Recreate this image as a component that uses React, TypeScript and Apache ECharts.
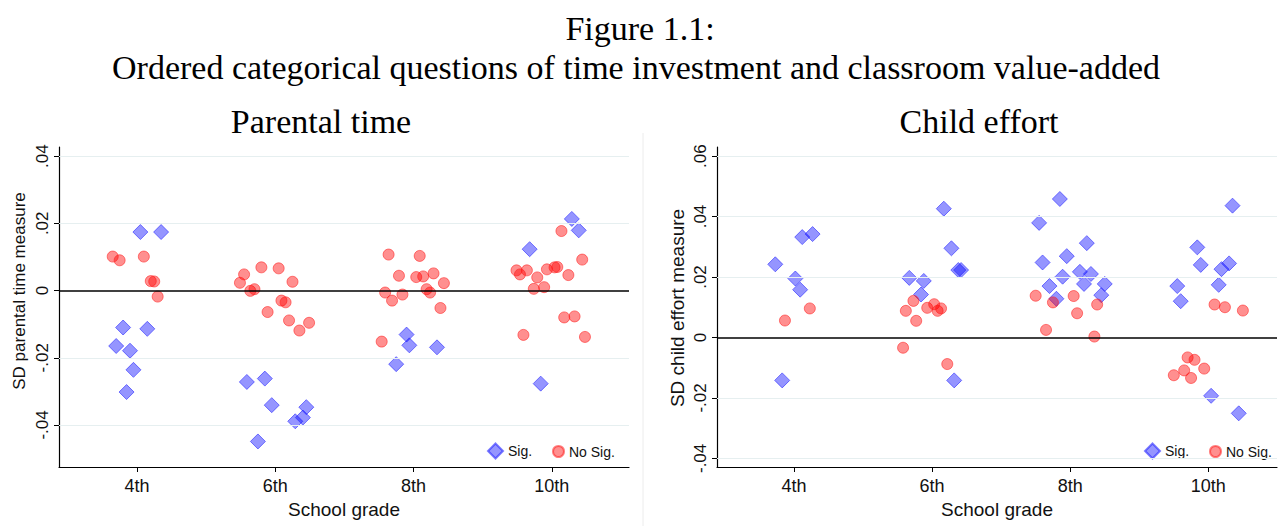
import React, { useEffect, useRef } from "react";
import * as echarts from "echarts";

// Grade ticks
const gradeValues = [4, 6, 8, 10];
const gradeLabels = ["4th", "6th", "8th", "10th"];

// Y ticks
const parentalTicks = [-0.04, -0.02, 0, 0.02, 0.04];
const effortTicks = [-0.04, -0.02, 0, 0.02, 0.04, 0.06];

// Parental time — significant (jittered grade, SD)
const parentalSigX = [4.05, 4.35, 3.8, 4.15, 3.7, 3.9, 3.95, 3.85, 5.59, 5.85, 5.95, 5.75, 6.29, 6.4, 6.45, 7.9, 7.94, 7.75, 8.34, 9.84, 9.68, 10.29, 10.39];
const parentalSigY = [0.0174, 0.0174, -0.011, -0.0114, -0.0165, -0.0179, -0.0236, -0.0302, -0.0272, -0.0262, -0.0341, -0.0449, -0.0389, -0.0378, -0.0347, -0.0131, -0.0163, -0.0219, -0.0169, -0.0277, 0.0123, 0.0213, 0.0179];

// Parental time — not significant
const parentalNoSigX = [3.65, 3.75, 4.1, 4.2, 4.25, 4.3,
  5.49, 5.55, 5.64, 5.7, 5.8, 5.89, 6.05, 6.09, 6.15, 6.25, 6.2, 6.35, 6.49,
  7.64, 8.09, 7.79, 8.04, 8.14, 8.29, 8.44, 7.59, 7.84, 8.19, 8.24, 7.69, 8.39, 7.54,
  10.14, 10.44, 9.49, 9.54, 9.64, 9.79, 9.93, 10.04, 10.08, 10.24, 9.74, 9.89, 9.59, 10.18, 10.33, 10.48];
const parentalNoSigY = [0.0101, 0.009, 0.0101, 0.0028, 0.0027, -0.0018,
  0.0023, 0.0048, -0.0001, 0.0004, 0.0069, -0.0064, 0.0066, -0.003, -0.0035, 0.0026, -0.0089, -0.0119, -0.0096,
  0.0107, 0.0103, 0.0044, 0.004, 0.0042, 0.0051, 0.0022, -0.0006, -0.0012, 0.0004, -0.0006, -0.003, -0.0052, -0.0152,
  0.0177, 0.0092, 0.006, 0.0048, 0.006, 0.0039, 0.0063, 0.0069, 0.007, 0.0046, 0.0005, 0.001, -0.0132, -0.008, -0.0077, -0.0138];

// Child effort — significant
const effortSigX = [3.73, 4.12, 4.27, 4.02, 4.09, 3.83,
  6.17, 6.28, 6.38, 6.42, 5.67, 5.88, 5.84, 6.32,
  7.85, 7.55, 8.24, 7.95, 7.6, 7.89, 8.14, 8.3, 8.2, 8.5, 7.7, 8.45, 7.8,
  10.35, 9.84, 9.89, 10.19, 10.3, 9.55, 9.6, 10.15, 10.04, 10.44];
const effortSigY = [0.0242, 0.0332, 0.0342, 0.0195, 0.0158, -0.0142,
  0.0426, 0.0295, 0.0223, 0.0223, 0.0197, 0.0187, 0.0142, -0.0142,
  0.0458, 0.0379, 0.0312, 0.0269, 0.0248, 0.0201, 0.0217, 0.021, 0.0177, 0.0177, 0.017, 0.014, 0.0128,
  0.0436, 0.0298, 0.024, 0.0226, 0.0245, 0.017, 0.012, 0.0174, -0.0193, -0.0251];

// Child effort — not significant
const effortNoSigX = [3.87, 4.23,
  5.73, 5.62, 5.77, 5.93, 6.03, 6.08, 6.13, 5.58, 6.22,
  7.5, 7.75, 8.05, 8.39, 8.1, 7.65, 8.35,
  10.09, 10.24, 10.5, 9.7, 9.8, 9.94, 9.65, 9.5, 9.75];
const effortNoSigY = [0.0056, 0.0096,
  0.0121, 0.0088, 0.0055, 0.0098, 0.011, 0.0088, 0.0096, -0.0034, -0.0088,
  0.0138, 0.0116, 0.0137, 0.0109, 0.008, 0.0025, 0.0003,
  0.0109, 0.01, 0.0089, -0.0066, -0.0074, -0.0103, -0.0109, -0.0125, -0.0134];

const SANS = "Liberation Sans";
const SERIF = "Liberation Serif";
const BLUE_FILL = "rgba(0,0,255,0.52)";
const BLUE_EDGE = "rgba(40,40,255,0.75)";
const RED_FILL = "rgba(255,0,0,0.55)";
const RED_EDGE = "rgba(255,30,30,0.7)";
const GRID_COLOR = "#e6eff0";

const zip = (xs: number[], ys: number[]) => xs.map((x, i) => [x, ys[i]]);

const fmtY = (v: number) => {
  if (Math.abs(v) < 1e-9) return "0";
  const s = Math.abs(v).toFixed(2).replace(/^0/, "");
  return (v < 0 ? "-" : "") + s;
};

const fmtX = (v: number) => {
  const i = gradeValues.indexOf(Math.round(v));
  return i >= 0 ? gradeLabels[i] : "";
};

function makeXAxis(gridIndex: number, min: number, max: number) {
  return {
    type: "value",
    gridIndex,
    min,
    max,
    name: "School grade",
    nameLocation: "middle",
    nameGap: 29,
    nameTextStyle: { fontFamily: SANS, fontSize: 19, color: "#111" },
    axisLine: { show: true, onZero: false, lineStyle: { color: "#000", width: 1.2 } },
    axisTick: { show: true, length: 5, customValues: gradeValues, lineStyle: { color: "#000" } },
    axisLabel: { customValues: gradeValues, formatter: fmtX, fontFamily: SANS, fontSize: 18, color: "#111", margin: 10 },
    splitLine: { show: false },
  };
}

function makeYAxis(gridIndex: number, min: number, max: number, ticks: number[]) {
  return {
    type: "value",
    gridIndex,
    min,
    max,
    axisLine: { show: true, onZero: false, lineStyle: { color: "#000", width: 1.2 } },
    axisTick: { show: true, length: 5, customValues: ticks, lineStyle: { color: "#000" } },
    axisLabel: { customValues: ticks, formatter: fmtY, rotate: 90, fontFamily: SANS, fontSize: 17, color: "#111", margin: 8 },
    splitLine: { show: false },
  };
}

function gridLines(ticks: number[]) {
  return {
    silent: true,
    symbol: ["none", "none"],
    label: { show: false },
    animation: false,
    data: [
      ...ticks.filter((t) => t !== 0).map((t) => ({ yAxis: t, lineStyle: { color: GRID_COLOR, width: 1, type: "solid" } })),
      { yAxis: 0, lineStyle: { color: "#000", width: 1.6, type: "solid" } },
    ],
  };
}

function sigSeries(idx: number, xs: number[], ys: number[], ticks: number[]) {
  return {
    name: "Sig.",
    type: "scatter",
    xAxisIndex: idx,
    yAxisIndex: idx,
    symbol: "diamond",
    symbolSize: 15,
    itemStyle: { color: BLUE_FILL, borderColor: BLUE_EDGE, borderWidth: 1 },
    data: zip(xs, ys),
    markLine: gridLines(ticks),
    z: 3,
  };
}

function noSigSeries(idx: number, xs: number[], ys: number[]) {
  return {
    name: "No Sig.",
    type: "scatter",
    xAxisIndex: idx,
    yAxisIndex: idx,
    symbol: "circle",
    symbolSize: 11,
    itemStyle: { color: RED_FILL, borderColor: RED_EDGE, borderWidth: 1 },
    data: zip(xs, ys),
    z: 4,
  };
}

function legendItem(left: number, name: string, icon: string, size: number) {
  return {
    left,
    top: 450 - size / 2,
    padding: 0,
    orient: "horizontal",
    selectedMode: false,
    itemWidth: size,
    itemHeight: size,
    width: 120,
    textStyle: { fontFamily: SANS, fontSize: 14, color: "#111" },
    data: [{ name, icon }],
  };
}

export default function App() {
  const ref = useRef<HTMLDivElement>(null);

  useEffect(() => {
    document.body.style.margin = "0";
    if (!ref.current) return;
    const chart = echarts.init(ref.current, undefined, { renderer: "svg" });

    const option: any = {
      animation: false,
      backgroundColor: "#fff",
      grid: [
        { left: 59, top: 147, width: 570, height: 320 },
        { left: 717, top: 147, width: 560, height: 320 },
      ],
      xAxis: [makeXAxis(0, 2.873, 11.117), makeXAxis(1, 2.886, 10.994)],
      yAxis: [makeYAxis(0, -0.0525, 0.0427, parentalTicks), makeYAxis(1, -0.04285, 0.063, effortTicks)],
      legend: [
        legendItem(487, "Sig.", "diamond", 15),
        legendItem(552, "No Sig.", "circle", 11),
        legendItem(1144, "Sig.", "diamond", 15),
        legendItem(1209, "No Sig.", "circle", 11),
      ],
      series: [
        sigSeries(0, parentalSigX, parentalSigY, parentalTicks),
        noSigSeries(0, parentalNoSigX, parentalNoSigY),
        sigSeries(1, effortSigX, effortSigY, effortTicks),
        noSigSeries(1, effortNoSigX, effortNoSigY),
      ],
      graphic: [
        { type: "text", x: 640, y: 28, style: { text: "Figure 1.1:", font: `34px '${SERIF}'`, fill: "#000", align: "center", verticalAlign: "middle" } },
        { type: "text", x: 636, y: 67, style: { text: "Ordered categorical questions of time investment and classroom value-added", font: `34px '${SERIF}'`, fill: "#000", align: "center", verticalAlign: "middle" } },
        { type: "text", x: 321, y: 121, style: { text: "Parental time", font: `34px '${SERIF}'`, fill: "#000", align: "center", verticalAlign: "middle" } },
        { type: "text", x: 979, y: 121, style: { text: "Child effort", font: `34px '${SERIF}'`, fill: "#000", align: "center", verticalAlign: "middle" } },
        { type: "text", x: 19, y: 291, rotation: Math.PI / 2, style: { text: "SD parental time measure", font: `17px '${SANS}'`, fill: "#111", align: "center", verticalAlign: "middle" } },
        { type: "text", x: 677, y: 308, rotation: Math.PI / 2, style: { text: "SD child effort measure", font: `19px '${SANS}'`, fill: "#111", align: "center", verticalAlign: "middle" } },
        { type: "line", shape: { x1: 643, y1: 133, x2: 643, y2: 526 }, style: { stroke: "#ececec", lineWidth: 1 } },
      ],
    };

    chart.setOption(option);
    return () => chart.dispose();
  }, []);

  return <div ref={ref} style={{ width: 1278, height: 526 }} />;
}
